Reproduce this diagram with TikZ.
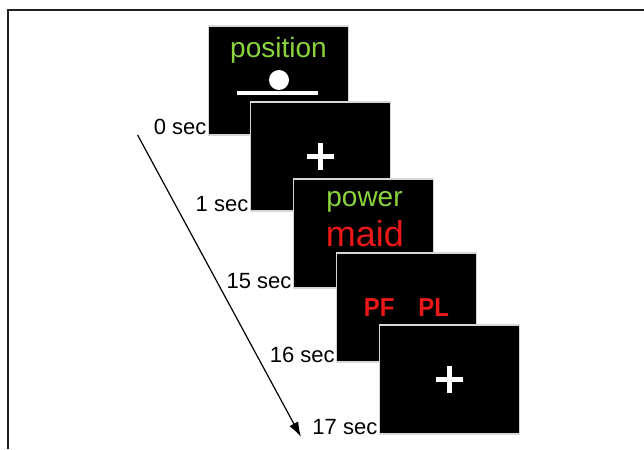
\documentclass[tikz,border=0pt]{standalone}
\usepackage{fontspec}
\setmainfont{Liberation Sans}
\usetikzlibrary{calc,arrows.meta}
\definecolor{stimgreen}{RGB}{140,212,60}
\definecolor{stimred}{RGB}{236,24,24}
\definecolor{framegray}{RGB}{34,30,32}
\definecolor{edgegray}{RGB}{215,215,215}
\tikzset{
  screen/.style={draw=edgegray, line width=1.2pt, fill=black, anchor=north west,
    minimum width=140pt, minimum height=109pt, inner sep=0pt, outer sep=0pt},
  timelabel/.style={anchor=base east, inner sep=0pt, font=\fontsize{22}{26}\selectfont},
  greenword/.style={anchor=base, inner sep=0pt, text=stimgreen, font=\fontsize{28}{32}\selectfont},
  redword/.style={anchor=base, inner sep=0pt, text=stimred},
}
\begin{document}
\begin{tikzpicture}[x=1pt,y=-1pt]
\useasboundingbox (0,0) rectangle (644,449);
% frame
\draw[framegray, line width=1.5pt] (8,449) -- (8,10) -- (644,10);
% screens
\node[screen] (b1) at (208.6,26) {};
\node[screen] (b2) at (250.5,102) {};
\node[screen] (b3) at (293.6,179) {};
\node[screen] (b4) at (336.8,253) {};
\node[screen] (b5) at (379.5,325) {};
% screen 1 content
\node[greenword] (pos) at (278.5,57.3) {position};
\fill[white] (279,80) circle (10);
\fill[white] (237,91) rectangle (318,95);
% screen 2 content
\fill[white] (b2.center) ++(-13.5,-2.5) rectangle ++(27,5);
\fill[white] (b2.center) ++(-2.5,-13.5) rectangle ++(5,27);
% screen 3 content
\node[greenword] (pw) at (364.5,206.7) {power};
\node[redword, font=\fontsize{36}{40}\selectfont] (md) at (365,246) {maid};
% screen 4 content
\node[redword, font=\bfseries\fontsize{26}{30}\selectfont, xscale=0.92] (pfpl) at (406.5,316.5) {PF\hspace{26pt}PL};
% screen 5 content
\fill[white] (b5.center) ++(-13.5,-2.5) rectangle ++(27,5);
\fill[white] (b5.center) ++(-2.5,-13.5) rectangle ++(5,27);
% time labels
\node[timelabel] (t0) at ($(b1.south west)+(-2,0)$) {0 sec};
\node[timelabel] (t1) at ($(b2.south west)+(-2,0)$) {1 sec};
\node[timelabel] (t2) at ($(b3.south west)+(-2,0)$) {15 sec};
\node[timelabel] (t3) at ($(b4.south west)+(-2,0)$) {16 sec};
\node[timelabel] (t4) at ($(b5.south west)+(-2,0)$) {17 sec};
% time arrow
\coordinate (as) at (137.6,135);
\coordinate (ae) at (301,437);
\draw[line width=1.2pt, -{Latex[length=15pt,width=10pt]}] (as) -- (ae);
\end{tikzpicture}
\end{document}
